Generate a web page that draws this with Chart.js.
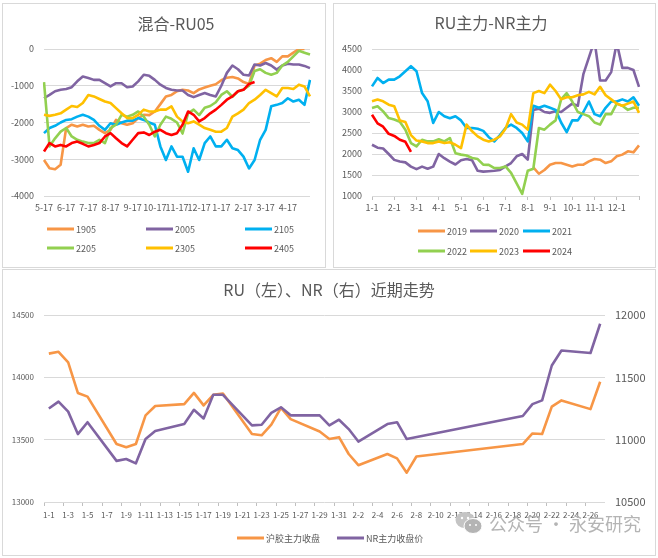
<!DOCTYPE html>
<html>
<head>
<meta charset="utf-8">
<script src="https://cdn.jsdelivr.net/npm/chart.js@4.4.1/dist/chart.umd.min.js"></script>
<style>
html,body{margin:0;padding:0;background:#fff;}
body{width:658px;height:558px;position:relative;overflow:hidden;font-family:"Noto Sans CJK SC","Microsoft YaHei",sans-serif;}
.panel{position:absolute;border:1px solid #d9d9d9;box-sizing:border-box;}
canvas{position:absolute;}
.title{position:absolute;color:#595959;font-size:16px;white-space:nowrap;transform:translate(-50%,-50%);line-height:1;}
.leg{position:absolute;font-size:9px;color:#595959;display:flex;align-items:center;white-space:nowrap;transform:translateY(-50%);line-height:1;}
.leg i{display:inline-block;width:27px;height:3px;margin-right:2px;}
#wm{position:absolute;left:455px;top:511px;color:#b4b4b4;font-size:18px;display:flex;align-items:center;white-space:nowrap;line-height:1;}
</style>
</head>
<body>
<div class="panel" style="left:2px;top:3px;width:324px;height:265px;"></div>
<div class="panel" style="left:333px;top:3px;width:323px;height:265px;"></div>
<div class="panel" style="left:2px;top:269px;width:654px;height:287px;"></div>

<canvas id="c1" width="330" height="268" style="left:0;top:0;"></canvas>
<canvas id="c2" width="328" height="268" style="left:330px;top:0;"></canvas>
<canvas id="c3" width="658" height="290" style="left:0;top:268px;"></canvas>

<div class="title" style="left:176px;top:23px;">混合-RU05</div>
<div class="title" style="left:491px;top:22px;">RU主力-NR主力</div>
<div class="title" style="left:329px;top:289px;">RU（左）、NR（右）近期走势</div>

<div id="legends"></div>

<div id="wm">
<svg width="28" height="24" viewBox="0 0 28 24" style="margin-right:6px">
<ellipse cx="10" cy="9" rx="9.5" ry="8" fill="#c4c4c4"/>
<ellipse cx="18" cy="15" rx="9" ry="7.5" fill="#b4b4b4" stroke="#fff" stroke-width="1"/>
<circle cx="7" cy="7" r="1.2" fill="#fff"/><circle cx="13" cy="7" r="1.2" fill="#fff"/>
<circle cx="15" cy="14" r="1" fill="#fff"/><circle cx="21" cy="14" r="1" fill="#fff"/>
</svg>公众号 · 永安研究</div>

<script>
Chart.defaults.font.family = '"Noto Sans CJK SC","Microsoft YaHei",sans-serif';
Chart.defaults.color = '#595959';

/* ---------- chart 1: 混合-RU05 (weekly readings, 4 per month) ---------- */
const months1 = ['5-17','6-17','7-17','8-17','9-17','10-17','11-17','12-17','1-17','2-17','3-17','4-17'];
const names1 = ['1905','2005','2105','2205','2305','2405'];
const ru1905 = [-3020,-3245,-3270,-3150,-2150,-2060,-2110,-2060,-2110,-2090,-2200,-2290,-2200,-1930,-2020,-2060,-2020,-1880,-1790,-1800,-1700,-1500,-1290,-1250,-1150,-1110,-1130,-1200,-1100,-1050,-1000,-960,-850,-780,-760,-800,-900,-950,-450,-400,-300,-250,-350,-200,-200,-100,0,0,null];
const ru2005 = [-1340,-1250,-1150,-1110,-1090,-1040,-880,-750,-790,-840,-840,-930,-1020,-930,-930,-1040,-1020,-880,-700,-730,-840,-970,-1060,-1110,-1130,-1130,-1250,-1310,-1250,-1200,-1250,-1290,-1000,-650,-450,-550,-700,-720,-420,-450,-380,-450,-560,-450,-400,-420,-420,-460,-520];
const ru2105 = [-2290,-2150,-2090,-2000,-1930,-1910,-1840,-1790,-1840,-1930,-2090,-2200,-2020,-2060,-2000,-1950,-1950,-1880,-1930,-2000,-2060,-2650,-3020,-2650,-2930,-2930,-3340,-2700,-3020,-2560,-2380,-2650,-2650,-2470,-2700,-2750,-2930,-3250,-3020,-2470,-2200,-1560,-1520,-1470,-1340,-1430,-1380,-1520,-840];
const ru2205 = [-900,-2650,-2430,-2250,-2150,-2380,-2470,-2520,-2560,-2560,-2470,-2560,-2150,-2060,-1790,-1840,-1790,-1700,-1840,-2060,-2380,-2060,-1840,-1900,-2000,-2300,-1750,-1650,-1800,-1600,-1550,-1450,-1250,-1150,-1300,-1150,-1100,-1000,-600,-550,-650,-700,-650,-450,-350,-200,-50,-100,-150];
const ru2305 = [-1790,-1820,-1790,-1750,-1650,-1550,-1580,-1470,-1250,-1290,-1360,-1430,-1470,-1610,-1750,-1880,-1880,-1790,-1650,-1700,-1700,-1650,-1650,-1560,-1840,-1970,-2020,-1970,-2060,-2150,-2200,-2250,-2250,-2150,-1840,-1750,-1650,-1470,-1380,-1250,-1110,-1200,-1290,-1060,-1060,-1090,-970,-1020,-1290];
const ru2405 = [-2790,-2560,-2650,-2610,-2650,-2560,-2520,-2580,-2650,-2610,-2560,-2380,-2290,-2430,-2560,-2650,-2470,-2290,-2270,-2340,-2250,-2200,-2290,-2340,-2290,-2060,-1700,-1790,-1970,-1880,-1750,-1650,-1520,-1380,-1290,-1150,-1110,-950,-900,null,null,null,null,null,null,null,null,null,null];

/* ---------- chart 2: RU主力-NR主力 (weekly readings, 4 per month) ---------- */
const months2 = ['1-1','2-1','3-1','4-1','5-1','6-1','7-1','8-1','9-1','10-1','11-1','12-1'];
const names2 = ['2019','2020','2021','2022','2023','2024'];
const y2019 = [null,null,null,null,null,null,null,null,null,null,null,null,null,null,null,null,null,null,null,null,null,null,null,null,null,null,null,null,null,1680,1530,1620,1745,1785,1785,1745,1705,1745,1745,1825,1880,1865,1785,1825,1945,1985,2065,2040,2205];
const y2020 = [2220,2150,2130,2000,1860,1820,1800,1700,1640,1700,1650,1700,2000,1900,1820,1750,1850,1880,1850,1600,1580,1590,1600,1620,1705,1785,1945,2000,1865,3050,3080,3000,2980,3020,3000,3100,3200,3150,3900,4300,4700,3750,3750,3950,4650,4050,4050,4000,3600];
const y2021 = [3610,3810,3690,3770,3770,3850,3970,4090,3970,3450,3255,2740,3000,2900,2850,2900,2800,2620,2620,2600,2550,2400,2300,2450,2620,2700,2620,2500,2300,3150,3100,3150,3100,3050,2750,2520,2800,2800,3000,3250,2950,2900,3100,3250,3250,3300,3250,3350,3150];
const y2022 = [3095,3135,3015,2855,2820,2770,2580,2260,2180,2340,2300,2300,2350,2300,2380,2020,1985,1965,1905,1880,1745,1740,1665,1665,1705,1550,1300,1050,1600,1650,2620,2580,2700,2800,3300,3450,3250,3000,2950,2900,2750,2700,2950,2950,3200,3150,3050,3100,3100];
const y2023 = [3255,3295,3255,3175,3135,2800,2760,2450,2320,2300,2260,2260,2300,2260,2280,2220,2140,2700,2540,2420,2340,2300,2340,2420,2600,2950,2750,2700,2580,3450,3500,3450,3650,3500,3300,3350,3350,3400,3420,3480,3420,3600,3400,3300,3200,3150,3200,3250,2980];
const y2024 = [2935,2730,2650,2480,2430,2340,2290,2050,null,null,null,null,null,null,null,null,null,null,null,null,null,null,null,null,null,null,null,null,null,null,null,null,null,null,null,null,null,null,null,null,null,null,null,null,null,null,null,null,null];

/* ---------- chart 3: RU / NR recent ---------- */
const days3 = ['1-1','1-2','1-3','1-4','1-5','1-6','1-7','1-8','1-9','1-10','1-11','1-12','1-13','1-14','1-15','1-16','1-17','1-18','1-19','1-20','1-21','1-22','1-23','1-24','1-25','1-26','1-27','1-28','1-29','1-30','1-31','2-1','2-2','2-3','2-4','2-5','2-6','2-7','2-8','2-9','2-10','2-11','2-12','2-13','2-14','2-15','2-16','2-17','2-18','2-19','2-20','2-21','2-22','2-23','2-24','2-25','2-26','2-27'];
const names3 = ['沪胶主力收盘','NR主力收盘价'];
const ruClose = [14190,14205,14120,13875,13845,null,null,13465,13440,13465,13695,13770,null,null,13785,13875,13775,13860,13870,null,null,13545,13535,13620,13755,13665,null,null,13565,13505,13520,13385,13295,null,null,13385,13350,13235,13365,null,null,null,null,null,null,null,null,null,null,13465,13550,13545,13765,13815,null,null,13745,13965];
const nrClose = [11250,11305,11225,11045,11140,null,null,10830,10845,10810,11005,11070,null,null,11125,11240,11170,11360,11360,null,null,11115,11120,11215,11260,11195,null,null,11195,11115,11160,11085,10985,null,null,11125,11140,11005,null,null,null,null,null,null,null,null,null,null,null,11190,11285,11315,11595,11715,null,null,11695,11930];

/* ---------- styles ---------- */
const colors6 = ['#F79646','#8064A2','#00B0F0','#92D050','#FFC000','#FF0000'];
const colors3 = ['#F79646','#8064A2'];
const GRID = '#d9d9d9';
const plain = (v) => String(v);

function monthCategories(months, perMonth) {
  const out = [];
  for (let i = 0; i <= months.length * perMonth; i++) {
    out.push(i % perMonth === 0 && i / perMonth < months.length ? months[i / perMonth] : '');
  }
  return out;
}

function buildChart(id, labels, names, series, cols, bw, padding, scales, axisIds) {
  return new Chart(document.getElementById(id), {
    type: 'line',
    data: {
      labels: labels,
      datasets: names.map((n, k) => ({
        label: n, data: series[k], borderColor: cols[k], backgroundColor: cols[k],
        borderWidth: bw, pointRadius: 0, pointHoverRadius: 0, tension: 0, spanGaps: true,
        order: -k, yAxisID: axisIds ? axisIds[k] : 'y', borderJoinStyle: 'round'
      }))
    },
    options: {
      responsive: false, animation: false, devicePixelRatio: 1,
      layout: { padding: padding },
      plugins: { legend: { display: false }, tooltip: { enabled: false } },
      scales: scales
    }
  });
}

/* chart 1 */
buildChart('c1', monthCategories(months1, 4), names1,
  [ru1905, ru2005, ru2105, ru2205, ru2305, ru2405], colors6, 2.6,
  { left: 0, right: 20, top: 49, bottom: 52 },
  {
    x: { type: 'category', offset: false, grid: { display: false, drawTicks: false }, border: { display: false },
         ticks: { autoSkip: false, maxRotation: 0, minRotation: 0, padding: 6, font: { size: 9 } },
         afterFit(s) { s.height = 20; } },
    y: { min: -4000, max: 0, ticks: { stepSize: 1000, padding: 10, font: { size: 9 }, callback: plain },
         grid: { color: GRID, drawTicks: false }, border: { display: false },
         afterFit(s) { s.width = 44; } }
  });

/* chart 2 */
buildChart('c2', monthCategories(months2, 4), names2,
  [y2019, y2020, y2021, y2022, y2023, y2024], colors6, 2.6,
  { left: 0, right: 19, top: 49, bottom: 52 },
  {
    x: { type: 'category', offset: false,
         grid: { display: true, drawOnChartArea: false, drawTicks: true, tickLength: 4,
                 color: 'rgba(0,0,0,0)', tickColor: (c) => (c.index % 4 === 0 ? '#bfbfbf' : 'rgba(0,0,0,0)') },
         border: { display: false },
         ticks: { autoSkip: false, maxRotation: 0, minRotation: 0, padding: 2, font: { size: 9 } },
         afterFit(s) { s.height = 20; } },
    y: { min: 1000, max: 4500, ticks: { stepSize: 500, padding: 10, font: { size: 9 }, callback: plain },
         grid: { color: GRID, drawTicks: false }, border: { display: false },
         afterFit(s) { s.width = 42; } }
  });

/* chart 3 */
buildChart('c3', days3, names3, [ruClose, nrClose], colors3, 2.6,
  { left: 0, right: 0, top: 47, bottom: 32 },
  {
    x: { type: 'category', offset: true,
         grid: { display: true, offset: true, drawOnChartArea: false, drawTicks: true, tickLength: 4,
                 color: 'rgba(0,0,0,0)', tickColor: (c) => (c.index % 2 === 0 ? '#bfbfbf' : 'rgba(0,0,0,0)') },
         border: { display: false },
         ticks: { autoSkip: false, maxRotation: 0, minRotation: 0, padding: 4, font: { size: 8 },
                  callback: (v, i) => (i % 2 === 0 ? days3[i] : '') },
         afterFit(s) { s.height = 24; } },
    y: { position: 'left', min: 13000, max: 14500, ticks: { stepSize: 500, padding: 10, font: { size: 8 }, callback: plain },
         grid: { color: GRID, drawTicks: false }, border: { display: false },
         afterFit(s) { s.width = 44; } },
    y1: { position: 'right', min: 10500, max: 12000, ticks: { stepSize: 500, padding: 10, font: { size: 11 }, callback: plain },
          grid: { drawOnChartArea: false, drawTicks: false }, border: { display: false },
          afterFit(s) { s.width = 53; } }
  }, ['y', 'y1']);

/* HTML legends */
const legendSpots = [
  { names: names1, cols: colors6, xs: [47, 146, 245], ys: [229, 248], size: 9 },
  { names: names2, cols: colors6, xs: [418, 470, 523], ys: [231, 251], size: 9 },
  { names: names3, cols: colors3, xs: [237, 337], ys: [538], size: 9 }
];
const host = document.getElementById('legends');
legendSpots.forEach(g => {
  g.names.forEach((n, k) => {
    const perRow = g.xs.length;
    const d = document.createElement('div');
    d.className = 'leg';
    d.style.left = g.xs[k % perRow] + 'px';
    d.style.top = g.ys[Math.floor(k / perRow)] + 'px';
    d.style.fontSize = g.size + 'px';
    const sw = document.createElement('i');
    sw.style.background = g.cols[k];
    d.appendChild(sw);
    d.appendChild(document.createTextNode(n));
    host.appendChild(d);
  });
});
</script>
</body>
</html>
